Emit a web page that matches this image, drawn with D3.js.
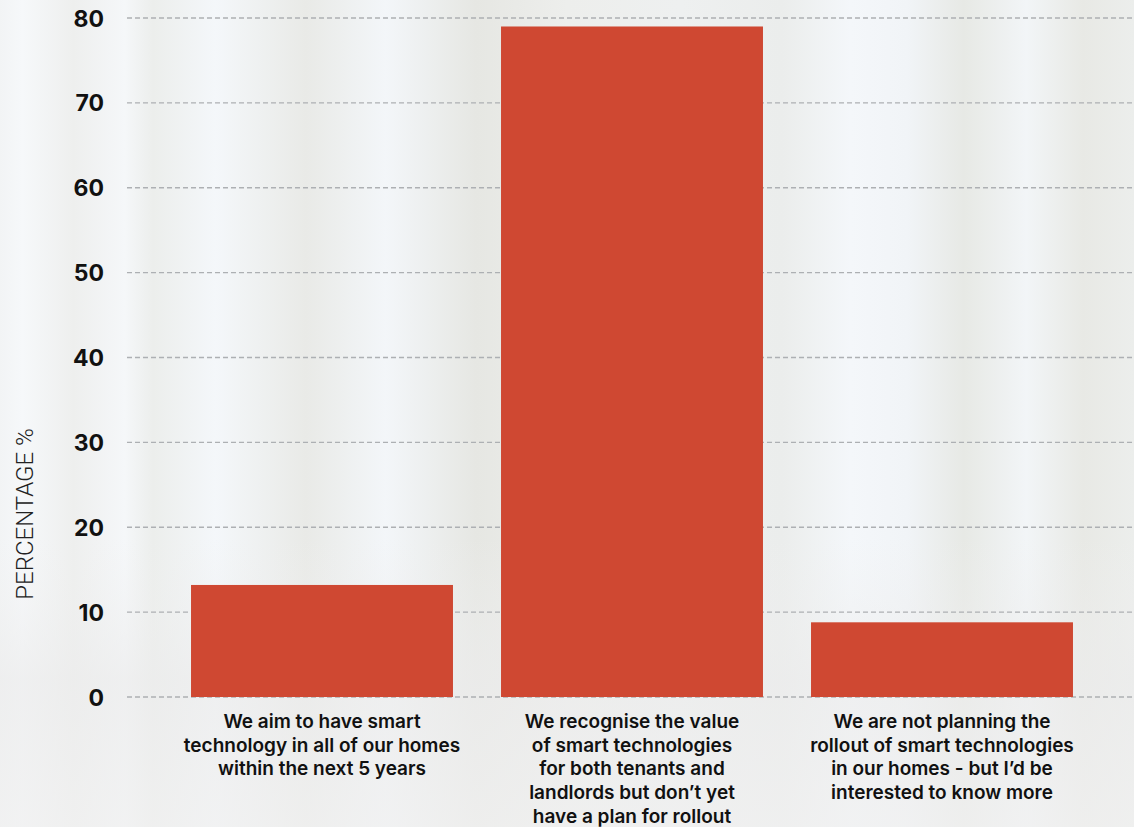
<!DOCTYPE html>
<html><head><meta charset="utf-8">
<script src="https://cdn.jsdelivr.net/npm/d3@7"></script>
<style>html,body{margin:0;padding:0;}svg{display:block;}</style>
</head><body>
<script>
const categories = [
  ["We aim to have smart", "technology in all of our homes", "within the next 5 years"],
  ["We recognise the value", "of smart technologies", "for both tenants and", "landlords but don’t yet", "have a plan for rollout"],
  ["We are not planning the", "rollout of smart technologies", "in our homes - but I’d be", "interested to know more"]
];
const values = [13.2, 79.0, 8.8];
const yTicks = [0, 10, 20, 30, 40, 50, 60, 70, 80];
const yTitle = "PERCENTAGE %";

const W = 1134, H = 827;
const svg = d3.select("body").append("svg").attr("width", W).attr("height", H);
const defs = svg.append("defs");
const g1 = defs.append("linearGradient").attr("id","bg").attr("x1","0").attr("x2","1").attr("y1","0").attr("y2","0");
[[0,"#f2f4f5"],[0.02,"#f6f8fa"],[0.065,"#eeefee"],[0.11,"#f5f7f9"],[0.135,"#eceeec"],[0.19,"#f4f7fa"],[0.27,"#e9eae7"],
 [0.34,"#f3f6f9"],[0.42,"#e6e7e3"],[0.5,"#edeeec"],[0.6,"#eef0f0"],[0.69,"#ebedec"],[0.75,"#f4f7fa"],[0.8,"#f1f4f7"],
 [0.85,"#e7e9e5"],[0.905,"#f2f5f7"],[0.955,"#e8e9e5"],[1,"#eceeec"]]
  .forEach(([o,c]) => g1.append("stop").attr("offset",o).attr("stop-color",c));
const g2 = defs.append("linearGradient").attr("id","bg2").attr("x1","0").attr("x2","0").attr("y1","0").attr("y2","1");
[[0,"#ffffff",0],[0.65,"#f0f0f0",0],[0.82,"#ececec",0.7],[1,"#f0f0f0",0.75]]
  .forEach(([o,c,a]) => g2.append("stop").attr("offset",o).attr("stop-color",c).attr("stop-opacity",a));
svg.append("rect").attr("width",W).attr("height",H).attr("fill","url(#bg)");
svg.append("rect").attr("width",W).attr("height",H).attr("fill","url(#bg2)");

const y = d3.scaleLinear().domain([0, 80]).range([697, 18]);
const x = d3.scaleBand().domain(d3.range(values.length)).range([167, 1097]).paddingInner(0.155).paddingOuter(0.0775);

// gridlines
svg.append("g").selectAll("line").data(yTicks).join("line")
  .attr("x1", 127).attr("x2", W)
  .attr("y1", d => y(d)).attr("y2", d => y(d))
  .attr("stroke", "#adb0b3").attr("stroke-width", 1.3).attr("stroke-dasharray", "5,3");

// y axis labels
const yAxis = d3.axisLeft(y).tickValues(yTicks).tickSize(0).tickPadding(0);
const ya = svg.append("g").attr("transform", "translate(104,0)").call(yAxis);
ya.select(".domain").remove();
ya.selectAll("text").attr("font-family", "Inter, 'DejaVu Sans', sans-serif").attr("font-weight", 700)
  .attr("font-size", 23).attr("fill", "#111").attr("dy", "0.35em");

// bars
svg.append("g").selectAll("rect").data(values).join("rect")
  .attr("x", (d,i) => x(i)).attr("width", x.bandwidth())
  .attr("y", d => y(d)).attr("height", d => y(0) - y(d))
  .attr("fill", "#cf4832");

// category labels
const lab = svg.append("g").selectAll("text").data(categories).join("text")
  .attr("x", (d,i) => x(i) + x.bandwidth()/2).attr("y", 728)
  .attr("text-anchor", "middle").attr("font-family", "Inter, 'DejaVu Sans', sans-serif")
  .attr("font-weight", 600).attr("font-size", 19).attr("fill", "#111");
lab.selectAll("tspan").data(d => d).join("tspan")
  .attr("x", function(){ return this.parentNode.getAttribute("x"); })
  .attr("dy", (d,i) => i === 0 ? 0 : 23.7).text(d => d);

// y title
svg.append("text").attr("transform", "translate(33,514) rotate(-90)")
  .attr("text-anchor", "middle").attr("font-family", "Roboto, 'Liberation Sans', sans-serif")
  .attr("font-weight", 300).attr("font-size", 24).attr("fill", "#222").text(yTitle);
</script>
</body></html>
